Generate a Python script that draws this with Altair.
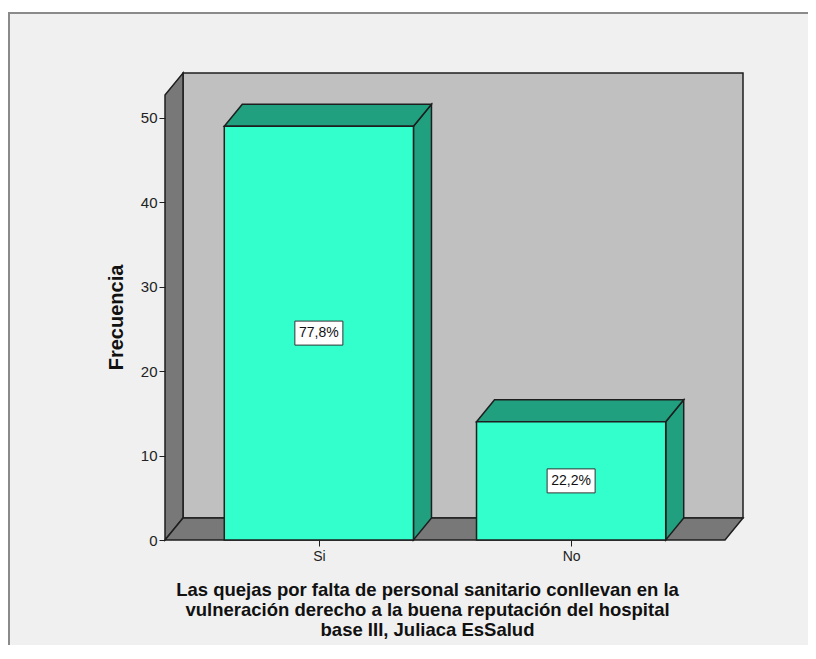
import altair as alt
import pandas as pd

# ---- data ----
categories = ["Si", "No"]
counts = [49, 14]
percent_labels = ["77,8%", "22,2%"]
y_ticks = [0, 10, 20, 30, 40, 50]
x_title = [
    "Las quejas por falta de personal sanitario conllevan en la",
    "vulneración derecho a la buena reputación del hospital",
    "base III, Juliaca EsSalud",
]
y_title = "Frecuencia"

# ---- styling / geometry constants (in scale units) ----
OUTER = 0.11          # outer padding of the category axis (in steps)
HALF = 0.375          # half bar width (in steps)
XF = 2 * OUTER + len(categories)   # front plane width
DX = 0.0714           # 3D depth along x (in steps)
YT = 52.7             # wall height
DY = 2.6              # 3D depth along y (in count units)
FONT = "Liberation Sans"

FRONT = "#33ffcc"
SHADE = "#20a07f"
BACKWALL = "#c0c0c0"
SIDEWALL = "#787878"
EDGE = "#1e1e1e"

centers = [OUTER + 0.5 + i for i in range(len(categories))]

XS = alt.Scale(domain=[0, XF + DX], nice=False, zero=False)
YS = alt.Scale(domain=[0, YT + DY], nice=False, zero=False)

label_expr = "[" + ",".join("'%s'" % c for c in categories) + "][round(datum.value - %s)]" % centers[0]

x_axis = alt.Axis(
    values=centers, labelExpr=label_expr, title=x_title, domain=False,
    tickSize=6, tickColor=EDGE, labelFont=FONT, labelFontSize=14, labelColor="#222",
    labelPadding=3, titleFont=FONT, titleFontSize=18.5, titleFontWeight="bold",
    titleColor="#111", titleLineHeight=20, titlePadding=17, titleX=262, zindex=2,
    grid=False,
)
y_axis = alt.Axis(
    values=y_ticks, title=y_title, domain=False, tickSize=6, tickColor=EDGE,
    labelFont=FONT, labelFontSize=15, labelColor="#222", labelPadding=2,
    titleFont=FONT, titleFontSize=20, titleFontWeight="bold", titleColor="#111",
    titlePadding=14, titleY=244, zindex=2, grid=False,
)

# ---- tables ----
front = pd.DataFrame({
    "cat": categories,
    "x": [c - HALF for c in centers],
    "x2": [c + HALF for c in centers],
    "y": [0] * len(categories),
    "y2": counts,
    "xc": centers,
    "ym": [v / 2 for v in counts],
    "pct": percent_labels,
})

side_rows, top_rows = [], []
for cat, c, v in zip(categories, centers, counts):
    side_rows.append({"cat": cat, "x": c + HALF, "y": v, "y2": 0})
    side_rows.append({"cat": cat, "x": c + HALF + DX, "y": v + DY, "y2": DY})
    top_rows.append({"cat": cat, "y": v, "x": c - HALF, "x2": c + HALF})
    top_rows.append({"cat": cat, "y": v + DY, "x": c - HALF + DX, "x2": c + HALF + DX})
side = pd.DataFrame(side_rows)
top = pd.DataFrame(top_rows)

back = pd.DataFrame({"x": [DX], "x2": [XF + DX], "y": [DY], "y2": [YT + DY]})
left = pd.DataFrame({"k": [0, 0], "x": [0, DX], "y": [YT, YT + DY], "y2": [0, DY]})
floor = pd.DataFrame({"k": [0, 0], "y": [0, DY], "x": [0, DX], "x2": [XF, XF + DX]})
frame_df = pd.DataFrame({"k": [0]})


def X(f="x"):
    return alt.X(f + ":Q", scale=XS, axis=x_axis, stack=None)


def Y(f="y"):
    return alt.Y(f + ":Q", scale=YS, axis=y_axis, stack=None)


# outer panel frame (decoration, drawn first)
frame = alt.Chart(frame_df).mark_rect(
    fill="#f0f0f0", stroke="#8a8a8a", strokeWidth=2, clip=False
).encode(x=alt.value(-156), x2=alt.value(700), y=alt.value(-60), y2=alt.value(700))

back_l = alt.Chart(back).mark_rect(fill=BACKWALL, stroke=EDGE, strokeWidth=1.5).encode(
    x=X(), x2="x2:Q", y=Y(), y2="y2:Q")

left_l = alt.Chart(left).mark_area(
    orient="vertical", fill=SIDEWALL, stroke=EDGE, strokeWidth=1.5, opacity=1
).encode(x=X(), y=Y(), y2="y2:Q", detail="k:N")

floor_l = alt.Chart(floor).mark_area(
    orient="horizontal", fill=SIDEWALL, stroke=EDGE, strokeWidth=1.5, opacity=1
).encode(y=Y(), x=X(), x2="x2:Q", detail="k:N")

side_l = alt.Chart(side).mark_area(
    orient="vertical", fill=SHADE, stroke=EDGE, strokeWidth=1.5, opacity=1
).encode(x=X(), y=Y(), y2="y2:Q", detail="cat:N")

top_l = alt.Chart(top).mark_area(
    orient="horizontal", fill=SHADE, stroke=EDGE, strokeWidth=1.5, opacity=1
).encode(y=Y(), x=X(), x2="x2:Q", detail="cat:N")

front_l = alt.Chart(front).mark_rect(fill=FRONT, stroke=EDGE, strokeWidth=1.5).encode(
    x=X(), x2="x2:Q", y=Y(), y2="y2:Q")

box_l = alt.Chart(front).mark_rect(
    fill="white", stroke="#333", strokeWidth=1, width=48, height=24
).encode(x=X("xc"), y=Y("ym"))

text_l = alt.Chart(front).mark_text(
    font=FONT, fontSize=14, color="#111", baseline="middle", align="center"
).encode(x=X("xc"), y=Y("ym"), text="pct:N")

chart = alt.layer(
    frame, back_l, left_l, floor_l, side_l, top_l, front_l, box_l, text_l
).properties(
    width=578, height=467,
    padding={"left": 157, "top": 65, "right": 65, "bottom": 105},
    autosize=alt.AutoSizeParams(type="none"),
    background="white",
).configure_view(stroke=None)

chart.save("out.html", embed_options={"renderer": "svg", "actions": False})
